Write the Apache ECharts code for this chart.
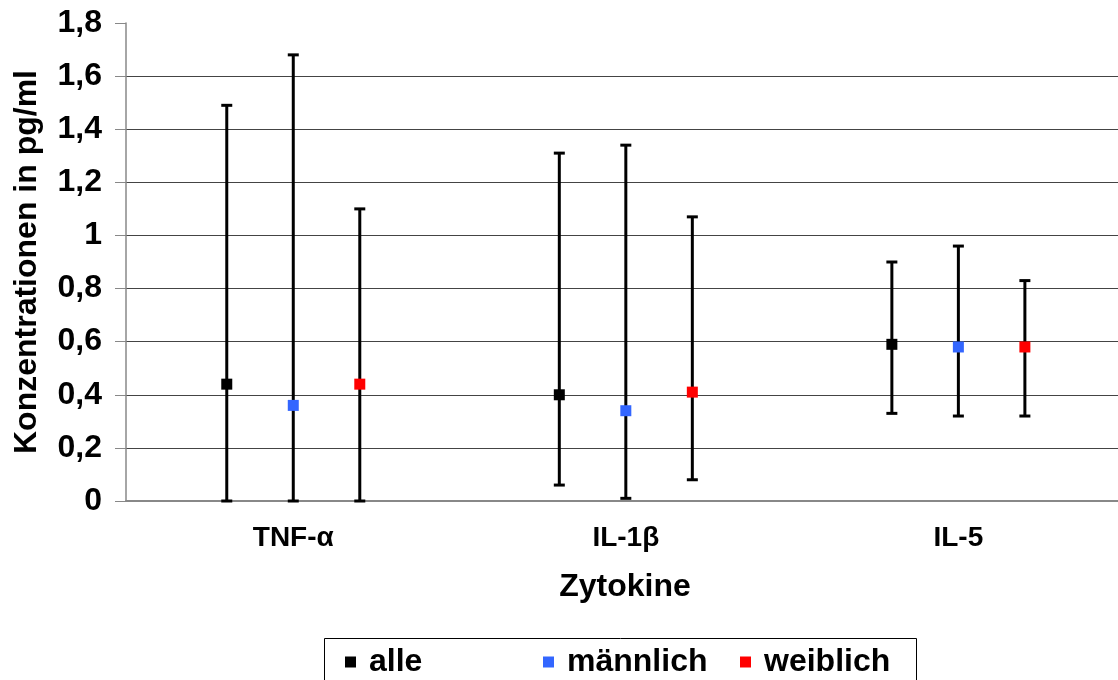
<!DOCTYPE html>
<html>
<head>
<meta charset="utf-8">
<script src="https://cdn.jsdelivr.net/npm/echarts@6/dist/echarts.min.js"></script>
<style>
  html, body { margin: 0; padding: 0; background: #fff; }
  #chart { width: 1118px; height: 680px; }
</style>
</head>
<body>
<div id="chart"></div>
<script>
// Zytokin-Konzentrationen: Mittelwert mit Spannweite (Min–Max)
const categories = ['TNF-α', 'IL-1β', 'IL-5'];
const groups = ['alle', 'männlich', 'weiblich'];
const groupColors = ['#000000', '#3366FF', '#FF0000'];

const alleMean = [0.44, 0.40, 0.59];
const alleLow = [0.00, 0.06, 0.33];
const alleHigh = [1.49, 1.31, 0.90];

const maennlichMean = [0.36, 0.34, 0.58];
const maennlichLow = [0.00, 0.01, 0.32];
const maennlichHigh = [1.68, 1.34, 0.96];

const weiblichMean = [0.44, 0.41, 0.58];
const weiblichLow = [0.00, 0.08, 0.32];
const weiblichHigh = [1.10, 1.07, 0.83];

const yTicks = [0, 0.2, 0.4, 0.6, 0.8, 1, 1.2, 1.4, 1.6, 1.8];

const groupData = [
  [alleMean, alleLow, alleHigh],
  [maennlichMean, maennlichLow, maennlichHigh],
  [weiblichMean, weiblichLow, weiblichHigh]
];
// horizontal position of each group inside a category slot (fraction of slot)
const groupShift = [-0.2, 0, 0.2];

const FONT = '"Liberation Sans", Arial, sans-serif';

function makeRenderer(shift, color) {
  return function (params, api) {
    const cat = api.value(0);
    const mean = api.value(1), lo = api.value(2), hi = api.value(3);
    const slot = api.size([1, 0])[0];
    const pm = api.coord([cat, mean]);
    const pl = api.coord([cat, lo]);
    const ph = api.coord([cat, hi]);
    const x = pm[0] + shift * slot;
    const cap = 5.5, sq = 11;
    const lineStyle = { stroke: '#000', lineWidth: 3 };
    return {
      type: 'group',
      children: [
        { type: 'line', shape: { x1: x, y1: pl[1], x2: x, y2: ph[1] }, style: lineStyle },
        { type: 'line', shape: { x1: x - cap, y1: ph[1], x2: x + cap, y2: ph[1] }, style: lineStyle },
        { type: 'line', shape: { x1: x - cap, y1: pl[1], x2: x + cap, y2: pl[1] }, style: lineStyle },
        { type: 'rect', shape: { x: x - sq / 2, y: pm[1] - sq / 2, width: sq, height: sq }, style: { fill: color } }
      ]
    };
  };
}

const series = groups.map((g, gi) => {
  const [m, lo, hi] = groupData[gi];
  return {
    name: g,
    type: 'custom',
    renderItem: makeRenderer(groupShift[gi], groupColors[gi]),
    itemStyle: { color: groupColors[gi] },
    encode: { x: 0, y: [1, 2, 3] },
    data: categories.map((c, ci) => [ci, m[ci], lo[ci], hi[ci]]),
    z: 3
  };
});

// the category slots run a little past the right edge of the canvas
const xMin = -0.503;
const xMax = 2.48;

// one legend entry per group, laid out in fixed columns inside a framed box
const legendLeft = [345, 543, 740];
const legends = groups.map((g, gi) => ({
  left: legendLeft[gi],
  top: 646,
  padding: 0,
  icon: 'rect',
  itemWidth: 11,
  itemHeight: 11,
  data: [g],
  textStyle: { fontFamily: FONT, fontWeight: 'bold', fontSize: 32, color: '#000', padding: [0, 0, 0, 8] }
}));

const chart = echarts.init(document.getElementById('chart'), null, { renderer: 'canvas' });
chart.setOption({
  animation: false,
  backgroundColor: '#ffffff',
  textStyle: { fontFamily: FONT },
  grid: { left: 126, top: 23, right: 0, height: 478, containLabel: false },
  legend: legends,
  graphic: [{
    type: 'rect',
    left: 322,
    top: 636,
    shape: { width: 592, height: 60 },
    style: { fill: 'none', stroke: '#000', lineWidth: 1 },
    z: 1
  }],
  xAxis: {
    type: 'value',
    min: xMin,
    max: xMax,
    name: 'Zytokine',
    nameLocation: 'middle',
    nameGap: 70,
    nameTextStyle: { fontFamily: FONT, fontWeight: 'bold', fontSize: 32, color: '#000', padding: [0, 0, 0, 6] },
    axisLine: { show: true, onZero: false, lineStyle: { color: '#888', width: 2 } },
    axisTick: { show: false },
    axisLabel: {
      fontFamily: FONT, fontWeight: 'bold', fontSize: 28, color: '#000', margin: 23,
      customValues: [0, 1, 2],
      formatter: v => categories[Math.round(v)]
    },
    splitLine: { show: false }
  },
  yAxis: {
    type: 'value',
    min: 0,
    max: 1.8,
    interval: 0.2,
    name: 'Konzentrationen in pg/ml',
    nameLocation: 'middle',
    nameGap: 83,
    nameRotate: 90,
    nameTextStyle: { fontFamily: FONT, fontWeight: 'bold', fontSize: 32, color: '#000' },
    axisLine: { show: true, onZero: false, lineStyle: { color: '#888', width: 1.5 } },
    axisTick: { show: true, inside: false, length: 11, lineStyle: { color: '#888' } },
    axisLabel: {
      fontFamily: FONT, fontWeight: 'bold', fontSize: 32, color: '#000', margin: 24,
      customValues: yTicks,
      formatter: v => String(Math.round(v * 10) / 10).replace('.', ',')
    },
    splitLine: { show: true, showMaxLine: false, showMinLine: false, lineStyle: { color: '#444', width: 1 } }
  },
  series: series
});
</script>
</body>
</html>
